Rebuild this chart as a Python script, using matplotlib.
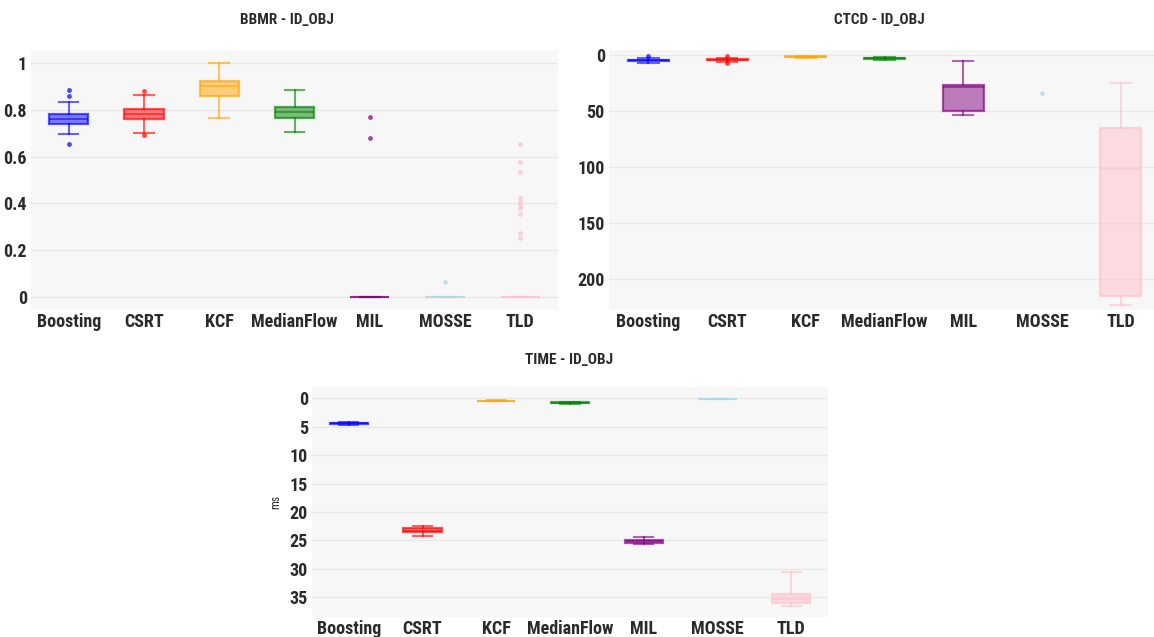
import numpy as np
import matplotlib
matplotlib.use("Agg")
import matplotlib.pyplot as plt
from matplotlib import font_manager

# pick a narrow bold face if one is around
font_name, font_size = 'DejaVu Sans', 10.5
for name, size in [('DejaVu Sans Condensed', 12), ('Roboto Condensed', 13),
                   ('Liberation Sans Narrow', 13), ('Roboto', 11.5)]:
    try:
        font_manager.findfont(font_manager.FontProperties(family=name),
                              fallback_to_default=False)
        font_name, font_size = name, size
        break
    except ValueError:
        pass
plt.rcParams['font.family'] = [font_name, 'DejaVu Sans']

trackers = ["Boosting", "CSRT", "KCF", "MedianFlow", "MIL", "MOSSE", "TLD"]
colors = ["blue", "red", "orange", "green", "purple", "lightblue", "pink"]

# BBMR box stats
bbmr_lo = [0.697, 0.701, 0.767, 0.707, 0.0, 0.0, 0.0]
bbmr_q1 = [0.740, 0.761, 0.862, 0.767, 0.0, 0.0, 0.0]
bbmr_med = [0.761, 0.783, 0.903, 0.793, 0.0, 0.0, 0.0]
bbmr_q3 = [0.783, 0.804, 0.925, 0.814, 0.0, 0.0, 0.0]
bbmr_hi = [0.836, 0.864, 1.0, 0.886, 0.0, 0.0, 0.0]
bbmr_fliers = [[0.886, 0.860, 0.653], [0.882, 0.693], [], [],
               [0.771, 0.681], [0.063],
               [0.656, 0.579, 0.534, 0.422, 0.407, 0.393, 0.379, 0.356, 0.272, 0.253]]

# CTCD box stats (MOSSE has a single value)
nan = float("nan")
ctcd_lo = [2.5, 2.5, 0.5, 1.5, 5.4, nan, 25.0]
ctcd_q1 = [4.0, 3.8, 1.0, 2.3, 27.0, nan, 64.9]
ctcd_med = [4.8, 4.2, 1.4, 3.0, 28.8, nan, 101.8]
ctcd_q3 = [5.6, 4.7, 1.8, 3.6, 50.0, nan, 214.9]
ctcd_hi = [7.0, 6.0, 3.0, 4.5, 53.6, nan, 223.2]
ctcd_fliers = [[0.5], [1.0, 6.8], [], [], [], [33.6], []]

# TIME box stats (ms)
time_lo = [4.1, 22.5, 0.35, 0.6, 24.4, 0.03, 30.5]
time_q1 = [4.3, 22.9, 0.40, 0.7, 24.9, 0.05, 34.5]
time_med = [4.4, 23.3, 0.45, 0.8, 25.2, 0.06, 35.3]
time_q3 = [4.55, 23.6, 0.50, 0.9, 25.4, 0.07, 36.0]
time_hi = [4.7, 24.3, 0.55, 1.0, 25.6, 0.09, 36.6]
time_fliers = [[], [], [], [], [], [], []]

W, H = 1154, 637
fig = plt.figure(figsize=(W / 100, H / 100), dpi=100)


def px_axes(left, top, right, bottom):
    return fig.add_axes([left / W, 1 - bottom / H, (right - left) / W, (bottom - top) / H])


def draw_boxes(ax, lo, q1, med, q3, hi, fliers, ylim, yticks, yticklabels):
    stats = []
    for i in range(len(trackers)):
        stats.append(dict(whislo=lo[i], q1=q1[i], med=med[i], q3=q3[i],
                          whishi=hi[i], fliers=fliers[i], label=trackers[i]))
    pos = np.arange(1, len(trackers) + 1)
    res = ax.bxp(stats, positions=pos, widths=0.52, patch_artist=True,
                 showfliers=True, manage_ticks=False)
    for i, c in enumerate(colors):
        box = res['boxes'][i]
        box.set_facecolor(matplotlib.colors.to_rgba(c, 0.5))
        box.set_edgecolor(matplotlib.colors.to_rgba(c, 0.65))
        box.set_linewidth(1.6)
        res['medians'][i].set_color(matplotlib.colors.to_rgba(c, 0.6))
        res['medians'][i].set_linewidth(1.3)
        for ln in res['whiskers'][2 * i:2 * i + 2] + res['caps'][2 * i:2 * i + 2]:
            ln.set_color(matplotlib.colors.to_rgba(c, 0.6))
            ln.set_linewidth(1.5)
        fl = res['fliers'][i]
        fl.set_marker('o')
        fl.set_markersize(3.5)
        fl.set_markerfacecolor(matplotlib.colors.to_rgba(c, 0.7))
        fl.set_markeredgecolor('none')
    ax.set_xlim(0.5, len(trackers) + 0.5)
    ax.set_xticks(pos)
    ax.set_xticklabels(trackers)
    ax.set_ylim(*ylim)
    ax.set_yticks(yticks)
    ax.set_yticklabels(yticklabels)
    ax.set_facecolor('#f7f7f7')
    ax.grid(axis='y', color='#e8e8e8', linewidth=1)
    ax.set_axisbelow(True)
    for s in ax.spines.values():
        s.set_visible(False)
    ax.tick_params(length=0, labelsize=font_size, colors='#2a2a2a')
    ax.tick_params(axis='y', pad=3)
    ax.tick_params(axis='x', pad=2)
    for t in ax.get_xticklabels() + ax.get_yticklabels():
        t.set_fontweight('bold')


ax1 = px_axes(31, 50, 558, 310)
draw_boxes(ax1, bbmr_lo, bbmr_q1, bbmr_med, bbmr_q3, bbmr_hi, bbmr_fliers,
           (-0.057, 1.057), [0, 0.2, 0.4, 0.6, 0.8, 1.0],
           ["0", "0.2", "0.4", "0.6", "0.8", "1"])

ax2 = px_axes(609, 50, 1160, 310)
draw_boxes(ax2, ctcd_lo, ctcd_q1, ctcd_med, ctcd_q3, ctcd_hi, ctcd_fliers,
           (227.7, -4.5), [0, 50, 100, 150, 200],
           ["0", "50", "100", "150", "200"])

ax3 = px_axes(312, 387, 828, 617)
draw_boxes(ax3, time_lo, time_q1, time_med, time_q3, time_hi, time_fliers,
           (38.5, -2.0), [0, 5, 10, 15, 20, 25, 30, 35],
           ["0", "5", "10", "15", "20", "25", "30", "35"])
ax3.set_ylabel("ms", fontsize=8.5, color='#2a2a2a', labelpad=5)

title_size = font_size - 2
fig.text(287 / W, 1 - 20 / H, "BBMR - ID_OBJ", ha='center', va='center',
         fontsize=title_size, fontweight='bold', color='#2a2a2a')
fig.text(879 / W, 1 - 20 / H, "CTCD - ID_OBJ", ha='center', va='center',
         fontsize=title_size, fontweight='bold', color='#2a2a2a')
fig.text(569 / W, 1 - 360 / H, "TIME - ID_OBJ", ha='center', va='center',
         fontsize=title_size, fontweight='bold', color='#2a2a2a')

fig.savefig("out.png", dpi=100)
